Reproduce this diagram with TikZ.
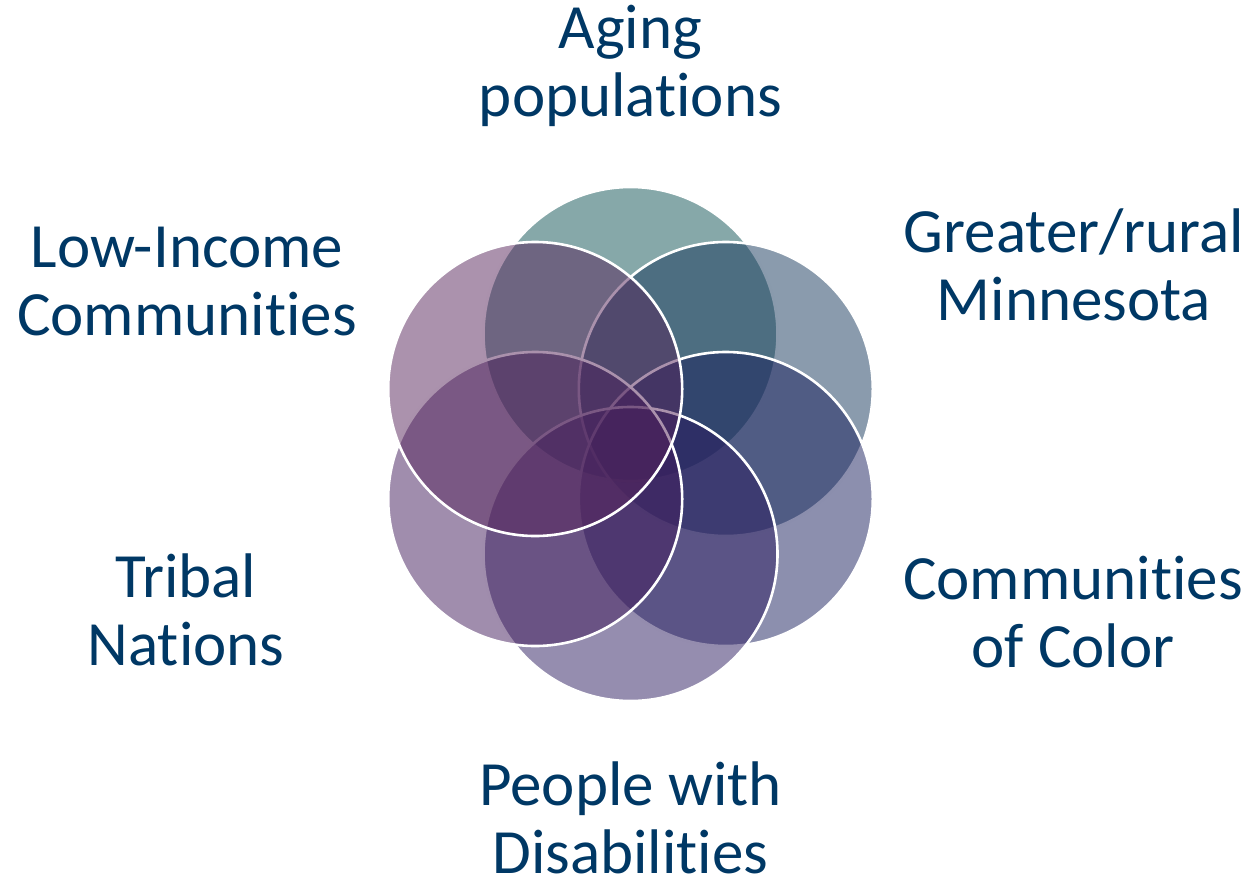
\documentclass[tikz,border=0pt]{standalone}
\usepackage{fontspec}
\setmainfont{Carlito}[Ligatures={NoCommon}]
\definecolor{txt}{RGB}{0,56,101}
\definecolor{cA}{RGB}{13,81,83}
\definecolor{cB}{RGB}{21,55,91}
\definecolor{cC}{RGB}{25,31,93}
\definecolor{cD}{RGB}{43,27,95}
\definecolor{cE}{RGB}{65,27,91}
\definecolor{cF}{RGB}{87,37,91}
\tikzset{
  venn/.style={circle, inner sep=0pt, minimum size=147pt, draw=white, line width=1.3pt, fill opacity=0.5, draw opacity=1},
  lbl/.style={text=txt, align=center, inner sep=0pt, anchor=base, font=\fontsize{31.5}{34}\selectfont}
}
\begin{document}
\begin{tikzpicture}[x=0.5pt, y=-0.5pt]
\useasboundingbox (0,0) rectangle (1252,884);
\node[venn, fill=cA] (aging) at (630.5,334) {};
\node[venn, fill=cB] (rural) at (725.8,389) {};
\node[venn, fill=cC] (color) at (725.8,499) {};
\node[venn, fill=cD] (disab) at (630.5,554) {};
\node[venn, fill=cE] (tribal) at (535.2,499) {};
\node[venn, fill=cF] (lowinc) at (535.2,389) {};
\node[lbl] (taging) at (630.5,116) {Aging\\populations};
\node[lbl] (trural) at (1074,320) {Greater/rural\\Minnesota};
\node[lbl] (tlowinc) at (187,335) {Low-Income\\Communities};
\node[lbl] (ttribal) at (186,665) {Tribal\\Nations};
\node[lbl] (tcolor) at (1073,667) {Communities\\of Color};
\node[lbl] (tdisab) at (630.5,873) {People with\\Disabilities};
\end{tikzpicture}
\end{document}
